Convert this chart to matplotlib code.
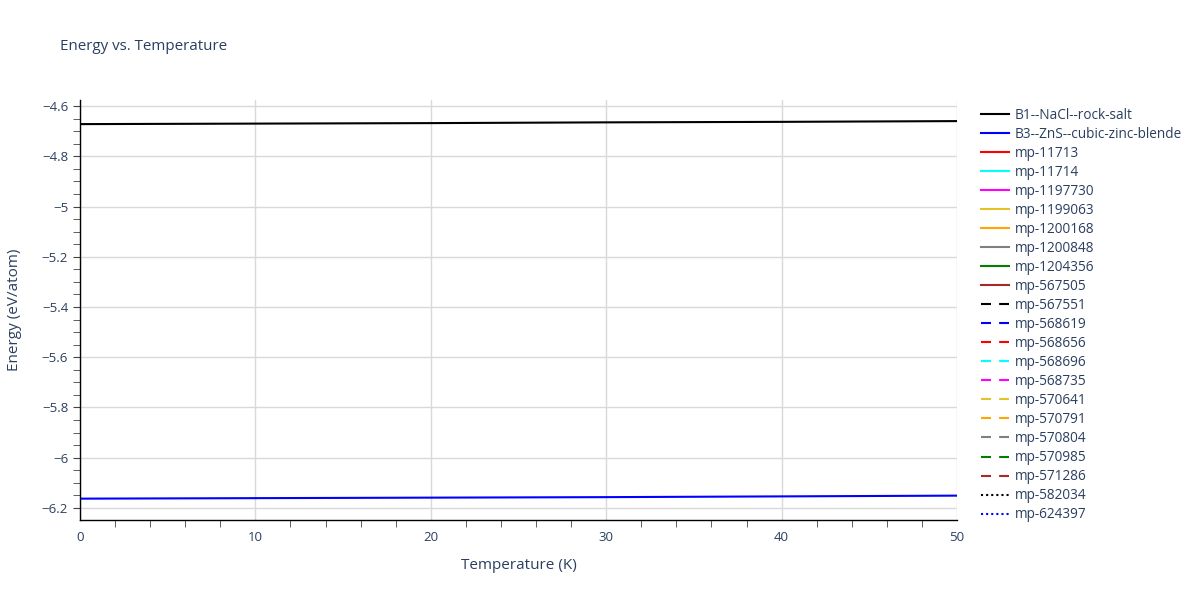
import numpy as np
import matplotlib.pyplot as plt
from matplotlib.ticker import MultipleLocator, FuncFormatter

plt.rcParams["font.family"] = ["Open Sans", "DejaVu Sans"]

# Data
temperature = [0, 10, 20, 30, 40, 50]
energy_b1 = [-4.672, -4.670, -4.668, -4.665, -4.663, -4.660]
energy_b3 = [-6.163, -6.161, -6.159, -6.157, -6.154, -6.151]

# traces with no visible data (legend only)
empty_names = [
    "mp-11713", "mp-11714", "mp-1197730", "mp-1199063", "mp-1200168",
    "mp-1200848", "mp-1204356", "mp-567505",
    "mp-567551", "mp-568619", "mp-568656", "mp-568696", "mp-568735",
    "mp-570641", "mp-570791", "mp-570804", "mp-570985", "mp-571286",
    "mp-582034", "mp-624397",
]
empty_colors = [
    "red", "cyan", "magenta", "#e6c229", "orange", "grey", "green", "brown",
    "black", "blue", "red", "cyan", "magenta", "#e6c229", "orange", "grey",
    "green", "brown", "black", "blue",
]
empty_styles = ["-"] * 8 + [(0, (4.8, 3.9))] * 10 + [(0, (1, 1.45))] * 2

text_color = "#2a3f5f"

fig = plt.figure(figsize=(12, 6), dpi=100)
ax = fig.add_axes([80 / 1200, 1 - 520 / 600, (957 - 80) / 1200, 420 / 600])

ax.plot(temperature, energy_b1, color="black", lw=1.5, label="B1--NaCl--rock-salt")
ax.plot(temperature, energy_b3, color="blue", lw=1.5, label="B3--ZnS--cubic-zinc-blende")
for name, col, ls in zip(empty_names, empty_colors, empty_styles):
    ax.plot([], [], color=col, ls=ls, lw=1.5, label=name)

ax.set_xlim(0, 50)
ax.set_ylim(-6.248, -4.576)

ax.xaxis.set_major_locator(MultipleLocator(10))
ax.xaxis.set_minor_locator(MultipleLocator(2))
ax.yaxis.set_major_locator(MultipleLocator(0.2))
ax.yaxis.set_minor_locator(MultipleLocator(0.05))
fmt = FuncFormatter(lambda v, p: "{:g}".format(round(v, 3)).replace("-", "\u2212"))
ax.yaxis.set_major_formatter(fmt)

ax.grid(True, which="major", color="#d9d9d9", lw=1)
ax.set_axisbelow(True)
for s in ["top", "right"]:
    ax.spines[s].set_visible(False)
for s in ["left", "bottom"]:
    ax.spines[s].set_color("black")
    ax.spines[s].set_linewidth(1)

ax.tick_params(axis="x", which="major", length=0, pad=8, labelsize=9.5, labelcolor=text_color)
ax.tick_params(axis="y", which="major", length=5, color="#444444", labelsize=9.5, labelcolor=text_color)
ax.tick_params(which="minor", length=5, color="#444444", direction="out")

ax.set_xlabel("Temperature (K)", fontsize=11, color=text_color, labelpad=10)
ax.set_ylabel("Energy (eV/atom)", fontsize=11, color=text_color, labelpad=14)

fig.text(60 / 1200, 1 - 46 / 600, "Energy vs. Temperature", fontsize=10.9,
         color=text_color, va="center", ha="left")

handles, labels = ax.get_legend_handles_labels()
leg = fig.legend(handles, labels, loc="upper left",
                 bbox_to_anchor=(981 / 1200, 1 - 108 / 600),
                 frameon=False, fontsize=9.8, labelcolor=text_color,
                 handlelength=2.06, handletextpad=0.44, labelspacing=0.295,
                 borderaxespad=0, borderpad=0)

fig.savefig("out.png", dpi=100)
